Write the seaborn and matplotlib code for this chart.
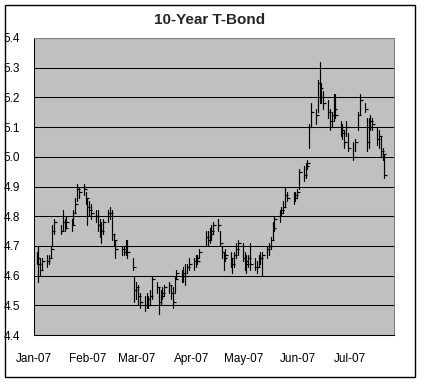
import matplotlib
matplotlib.use("Agg")
import matplotlib.pyplot as plt
import matplotlib.dates as mdates
from matplotlib.markers import TICKRIGHT
from matplotlib.patches import Rectangle
from matplotlib.ticker import MultipleLocator, FormatStrFormatter
import pandas as pd
import seaborn as sns

# Trading days per month (2007)
jan = [2, 3, 4, 5, 8, 9, 10, 11, 12, 16, 17, 18, 19, 22, 23, 24, 25, 26, 29, 30, 31]
feb = [1, 2, 5, 6, 7, 8, 9, 12, 13, 14, 15, 16, 20, 21, 22, 23, 26, 27, 28]
mar = [1, 2, 5, 6, 7, 8, 9, 12, 13, 14, 15, 16, 19, 20, 21, 22, 23, 26, 27, 28, 29, 30]
apr = [2, 3, 4, 5, 9, 10, 11, 12, 13, 16, 17, 18, 19, 20, 23, 24, 25, 26, 27, 30]
may = [1, 2, 3, 4, 7, 8, 9, 10, 11, 14, 15, 16, 17, 18, 21, 22, 23, 24, 25, 29, 30, 31]
jun = [1, 4, 5, 6, 7, 8, 11, 12, 13, 14, 15, 18, 19, 20, 21, 22, 25, 26, 27, 28, 29]
jul = [2, 3, 5, 6, 9, 10, 11, 12, 13, 16, 17, 18, 19, 20]

high = [
    4.68, 4.70, 4.66, 4.66, 4.67, 4.67, 4.70, 4.77, 4.79, 4.77, 4.82, 4.79, 4.80, 4.79, 4.82, 4.86, 4.91, 4.90, 4.91, 4.88, 4.86,
    4.85, 4.84, 4.82, 4.82, 4.79, 4.78, 4.79, 4.82, 4.83, 4.82, 4.74, 4.72, 4.70, 4.70, 4.72, 4.72, 4.66, 4.60, 4.58,
    4.57, 4.54, 4.53, 4.54, 4.53, 4.55, 4.60, 4.58, 4.56, 4.55, 4.56, 4.57, 4.58, 4.57, 4.56, 4.60, 4.62, 4.62, 4.63, 4.64, 4.64, 4.66,
    4.66, 4.67, 4.67, 4.69, 4.75, 4.75, 4.76, 4.77, 4.78, 4.79, 4.75, 4.70, 4.68, 4.69, 4.68, 4.66, 4.68, 4.71, 4.72, 4.71,
    4.68, 4.67, 4.67, 4.71, 4.66, 4.65, 4.67, 4.68, 4.68, 4.70, 4.71, 4.73, 4.78, 4.80, 4.82, 4.83, 4.85, 4.90, 4.88, 4.88, 4.88, 4.89,
    4.96, 4.97, 4.98, 4.99, 5.11, 5.18, 5.16, 5.26, 5.32, 5.25, 5.22, 5.19, 5.16, 5.15, 5.21, 5.21, 5.12, 5.11, 5.09, 5.12, 5.08,
    5.05, 5.06, 5.15, 5.21, 5.18, 5.13, 5.13, 5.14, 5.13, 5.10, 5.09, 5.07, 5.03, 5.01,
]
low = [
    4.64, 4.58, 4.60, 4.62, 4.63, 4.64, 4.66, 4.70, 4.74, 4.74, 4.75, 4.75, 4.76, 4.75, 4.77, 4.81, 4.85, 4.86, 4.87, 4.84, 4.77,
    4.80, 4.79, 4.78, 4.75, 4.73, 4.71, 4.74, 4.78, 4.79, 4.72, 4.70, 4.66, 4.67, 4.67, 4.67, 4.66, 4.62, 4.51, 4.52,
    4.50, 4.49, 4.48, 4.49, 4.49, 4.50, 4.52, 4.54, 4.47, 4.50, 4.52, 4.53, 4.54, 4.52, 4.49, 4.54, 4.59, 4.58, 4.58, 4.57, 4.61, 4.62,
    4.62, 4.63, 4.64, 4.66, 4.70, 4.70, 4.71, 4.72, 4.74, 4.75, 4.70, 4.66, 4.62, 4.65, 4.63, 4.61, 4.63, 4.66, 4.67, 4.65,
    4.62, 4.61, 4.63, 4.62, 4.62, 4.61, 4.63, 4.64, 4.60, 4.66, 4.67, 4.69, 4.72, 4.75, 4.78, 4.80, 4.81, 4.83, 4.85, 4.84, 4.85, 4.86,
    4.89, 4.92, 4.93, 4.96, 5.03, 5.10, 5.11, 5.15, 5.18, 5.18, 5.16, 5.13, 5.09, 5.10, 5.12, 5.13, 5.07, 5.06, 5.03, 5.07, 5.02,
    4.99, 5.02, 5.09, 5.14, 5.15, 5.02, 5.03, 5.09, 5.09, 5.04, 5.03, 5.00, 4.99, 4.93,
]
close = [
    4.66, 4.64, 4.62, 4.65, 4.65, 4.66, 4.69, 4.75, 4.78, 4.75, 4.78, 4.76, 4.78, 4.77, 4.81, 4.84, 4.89, 4.88, 4.89, 4.86, 4.83,
    4.82, 4.81, 4.80, 4.77, 4.75, 4.75, 4.78, 4.81, 4.81, 4.74, 4.72, 4.69, 4.69, 4.68, 4.70, 4.68, 4.63, 4.55, 4.56,
    4.53, 4.51, 4.50, 4.52, 4.50, 4.53, 4.59, 4.56, 4.51, 4.53, 4.54, 4.56, 4.57, 4.54, 4.51, 4.59, 4.61, 4.60, 4.61, 4.60, 4.63, 4.64,
    4.65, 4.66, 4.65, 4.68, 4.73, 4.72, 4.74, 4.75, 4.77, 4.77, 4.71, 4.68, 4.66, 4.67, 4.66, 4.64, 4.67, 4.69, 4.71, 4.66,
    4.65, 4.64, 4.66, 4.64, 4.63, 4.63, 4.66, 4.66, 4.67, 4.69, 4.70, 4.72, 4.76, 4.79, 4.81, 4.82, 4.83, 4.87, 4.86, 4.86, 4.87, 4.88,
    4.95, 4.94, 4.97, 4.98, 5.10, 5.15, 5.14, 5.25, 5.23, 5.20, 5.18, 5.15, 5.12, 5.14, 5.16, 5.14, 5.09, 5.08, 5.05, 5.10, 5.03,
    5.00, 5.05, 5.14, 5.19, 5.16, 5.05, 5.10, 5.12, 5.11, 5.06, 5.07, 5.02, 5.01, 4.94,
]

dates = [f"2007-{m:02d}-{d:02d}"
         for m, days in enumerate([jan, feb, mar, apr, may, jun, jul], start=1)
         for d in days]

df = pd.DataFrame({"date": pd.to_datetime(dates), "high": high, "low": low, "close": close})
# Excel centres each day's mark in the middle of its day slot
df["date"] = df["date"] + pd.Timedelta(hours=12)
bars = df.melt(id_vars="date", value_vars=["high", "low"])

sns.set_style("white")
plt.rcParams["font.family"] = ["Liberation Sans", "DejaVu Sans"]

fig = plt.figure(figsize=(4.22, 3.82), dpi=100)
ax = fig.add_axes([34 / 422, 47 / 382, 360 / 422, 297 / 382])
ax.set_facecolor("#c0c0c0")

# high-low bars and close ticks
sns.lineplot(data=bars, x="date", y="value", units="date", estimator=None,
             color="black", lw=0.85, ax=ax, legend=False)
sns.scatterplot(data=df, x="date", y="close", marker=TICKRIGHT, s=4,
                color="black", linewidth=0.85, ax=ax, legend=False)

ax.set_xlim(pd.Timestamp("2007-01-01"), pd.Timestamp("2007-07-26"))
ax.set_ylim(4.4, 5.4)
ax.yaxis.set_major_locator(MultipleLocator(0.1))
ax.yaxis.set_major_formatter(FormatStrFormatter("%.1f"))
ax.xaxis.set_major_locator(mdates.MonthLocator())
ax.xaxis.set_major_formatter(mdates.DateFormatter("%b-%y"))
ax.grid(axis="y", color="black", lw=0.75)
ax.set_axisbelow(True)
ax.set(xlabel="", ylabel="")

for s in ["top", "right"]:
    ax.spines[s].set_color("#808080")
for s in ["left", "bottom"]:
    ax.spines[s].set_color("black")
for s in ax.spines.values():
    s.set_linewidth(0.75)

ax.tick_params(direction="out", length=4, width=0.75, colors="black", labelsize=8.5)
ax.tick_params(axis="x", pad=9)
ax.tick_params(axis="y", pad=6)

fig.text(210 / 422, 1 - 20 / 382, "10-Year T-Bond", ha="center", va="center",
         fontsize=11, fontweight="bold")

# chart area border
fig.add_artist(Rectangle((5 / 422, 5 / 382), 410 / 422, 372 / 382,
                         transform=fig.transFigure, fill=False, ec="black", lw=1))

fig.savefig("out.png", dpi=100)
